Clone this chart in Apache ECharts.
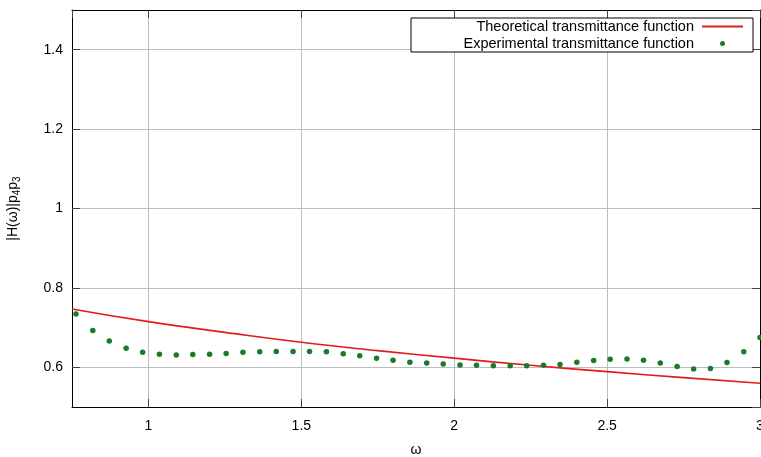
<!DOCTYPE html>
<html>
<head>
<meta charset="utf-8">
<script src="https://cdn.jsdelivr.net/npm/echarts@6/dist/echarts.min.js"></script>
<style>
  html, body { margin: 0; padding: 0; background: #fff; }
  #chart { width: 761px; height: 457px; }
</style>
</head>
<body>
<div id="chart"></div>
<script>
const FONT = '"Liberation Sans", Arial, sans-serif'

// theoretical curve
const theoX = [0.75, 1.0, 1.25, 1.5, 1.75, 2.0, 2.25, 2.5, 2.75, 3.0]
const theoY = [0.747, 0.715, 0.688, 0.663, 0.642, 0.623, 0.605, 0.589, 0.574, 0.560]

// measured points (green dots)
const expX = [
  0.763, 0.818, 0.872, 0.927, 0.981, 1.036, 1.091, 1.145, 1.200, 1.254,
  1.309, 1.364, 1.418, 1.473, 1.527, 1.582, 1.637, 1.691, 1.746, 1.800,
  1.855, 1.910, 1.964, 2.019, 2.073, 2.128, 2.183, 2.237, 2.292, 2.346,
  2.401, 2.456, 2.510, 2.565, 2.619, 2.674, 2.729, 2.783, 2.838, 2.892,
  2.947, 3.000
]
const expY = [
  0.734, 0.693, 0.666, 0.648, 0.638, 0.633, 0.631, 0.632, 0.633, 0.635,
  0.638, 0.639, 0.640, 0.640, 0.640, 0.639, 0.634, 0.629, 0.623, 0.618,
  0.613, 0.611, 0.608, 0.606, 0.605, 0.604, 0.604, 0.604, 0.605, 0.607,
  0.613, 0.617, 0.620, 0.621, 0.618, 0.611, 0.602, 0.596, 0.597, 0.612,
  0.639, 0.675
]

const theoName = 'Theoretical transmittance function'
const expName = 'Experimental transmittance function'

const chart = echarts.init(document.getElementById('chart'), null, { renderer: 'canvas' })

const tickStyle = { show: true, inside: true, length: 8, lineStyle: { color: '#444', width: 1 } }
const lineStyleAxis = { show: true, onZero: false, lineStyle: { color: '#000', width: 1 } }
const labelStyle = { color: '#000', fontSize: 14, fontFamily: FONT }

const xBase = { type: 'value', min: 0.75, max: 3, minInterval: 0.5, maxInterval: 0.5 }
const yBase = { type: 'value', min: 0.5, max: 1.5, minInterval: 0.2, maxInterval: 0.2 }

const option = {
  animation: false,
  backgroundColor: '#fff',
  grid: { left: 72, right: 1, top: 10, bottom: 50, outerBoundsMode: 'none', containLabel: false },
  legend: {
    orient: 'vertical',
    right: 8,
    top: 18,
    align: 'right',
    itemWidth: 41,
    itemHeight: 5,
    itemGap: 2,
    padding: [1, 9, 1, 10],
    borderColor: '#000',
    borderWidth: 1,
    borderRadius: 0,
    backgroundColor: '#fff',
    data: [
      { name: theoName, itemStyle: { opacity: 0 } },
      { name: expName }
    ],
    formatter: n => '{t|' + n + '}',
    textStyle: {
      rich: {
        t: { width: 273, align: 'right', fontSize: 14.5, lineHeight: 16, fontFamily: FONT, color: '#000', padding: [0, 3, 0, 0] }
      }
    }
  },
  xAxis: [
    {
      ...xBase,
      position: 'bottom',
      name: 'ω',
      nameLocation: 'middle',
      nameGap: 36,
      nameTextStyle: { color: '#000', fontSize: 14, fontFamily: FONT },
      axisLine: lineStyleAxis,
      axisTick: tickStyle,
      axisLabel: { ...labelStyle, margin: 12, showMinLabel: false },
      splitLine: { show: true, showMinLine: false, showMaxLine: false, lineStyle: { color: '#bdbdbd', width: 1 } }
    },
    {
      ...xBase,
      position: 'top',
      axisLine: lineStyleAxis,
      axisTick: tickStyle,
      axisLabel: { show: false },
      splitLine: { show: false }
    }
  ],
  yAxis: [
    {
      ...yBase,
      position: 'left',
      name: '{n||H(ω)|p}{s|4}{n|p}{s|3}',
      nameLocation: 'middle',
      nameRotate: 90,
      nameGap: 50,
      nameTextStyle: {
        color: '#000',
        fontFamily: FONT,
        rich: {
          n: { fontSize: 14, lineHeight: 18, fontFamily: FONT, color: '#000' },
          s: { fontSize: 10, lineHeight: 10, verticalAlign: 'bottom', fontFamily: FONT, color: '#000' }
        }
      },
      axisLine: lineStyleAxis,
      axisTick: tickStyle,
      axisLabel: { ...labelStyle, margin: 9, showMinLabel: false, showMaxLabel: false },
      splitLine: { show: true, showMinLine: false, showMaxLine: false, lineStyle: { color: '#bdbdbd', width: 1 } }
    },
    {
      ...yBase,
      position: 'right',
      axisLine: lineStyleAxis,
      axisTick: tickStyle,
      axisLabel: { show: false },
      splitLine: { show: false }
    }
  ],
  series: [
    {
      name: theoName,
      type: 'line',
      smooth: true,
      symbol: 'none',
      data: theoX.map((x, i) => [x, theoY[i]]),
      lineStyle: { color: '#e31a1c', width: 1.6 },
      itemStyle: { color: '#e31a1c' },
      z: 3
    },
    {
      name: expName,
      type: 'scatter',
      symbol: 'circle',
      symbolSize: 5.5,
      clip: false,
      data: expX.map((x, i) => [x, expY[i]]),
      itemStyle: { color: '#1b7a2a', opacity: 1 },
      z: 4
    }
  ]
}

chart.setOption(option)
</script>
</body>
</html>
